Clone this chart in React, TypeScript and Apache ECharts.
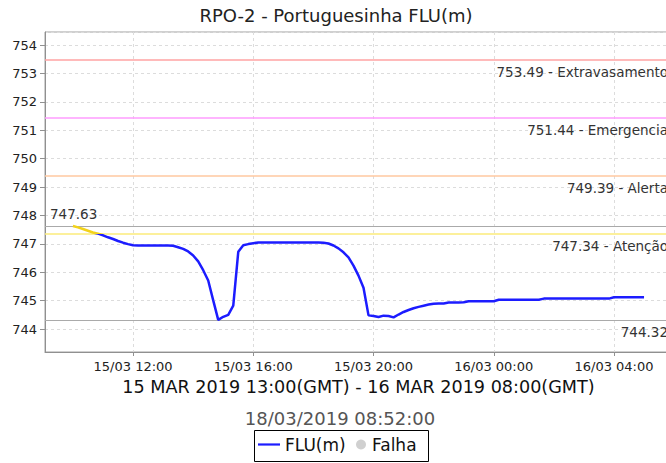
import React, { useEffect, useRef } from "react";
import * as echarts from "echarts";

const TITLE = "RPO-2 - Portuguesinha FLU(m)";
const X_AXIS_NAME = "15 MAR 2019 13:00(GMT) - 16 MAR 2019 08:00(GMT)";
const SUBTITLE = "18/03/2019 08:52:00";
const SERIES_NAME = "FLU(m)";
const FAIL_NAME = "Falha";

// first reading: 15/03 10:00 (local), one reading every 10 minutes
const START_HOUR = 10;
const STEP_MINUTES = 10;
const VALUES = [
  747.63, 747.58, 747.52, 747.46, 747.4, 747.36, 747.3, 747.23, 747.17, 747.1,
  747.04, 746.99, 746.95, 746.94, 746.94, 746.94, 746.94, 746.94, 746.94, 746.94,
  746.93, 746.88, 746.82, 746.73, 746.59, 746.38, 746.07, 745.71, 745.01, 744.32,
  744.43, 744.5, 744.82, 746.72, 746.95, 746.99, 747.02, 747.05, 747.05, 747.05,
  747.05, 747.05, 747.05, 747.05, 747.05, 747.05, 747.05, 747.05, 747.05, 747.05,
  747.04, 747.01, 746.94, 746.84, 746.7, 746.52, 746.23, 745.88, 745.45, 744.48,
  744.46, 744.42, 744.47, 744.46, 744.41, 744.51, 744.6, 744.67, 744.73, 744.78,
  744.82, 744.86, 744.89, 744.9, 744.9, 744.93, 744.93, 744.93, 744.94, 744.98,
  744.98, 744.98, 744.98, 744.98, 744.98, 745.03, 745.03, 745.03, 745.03, 745.03,
  745.03, 745.03, 745.03, 745.03, 745.07, 745.07, 745.07, 745.07, 745.07, 745.07,
  745.07, 745.07, 745.07, 745.07, 745.07, 745.07, 745.07, 745.07, 745.12, 745.12,
  745.12, 745.12, 745.12, 745.12, 745.12,
];

const THRESHOLD_VALUES = [753.49, 751.44, 749.39, 747.34];
const THRESHOLD_NAMES = ["Extravasamento", "Emergencia", "Alerta", "Atenção"];
const THRESHOLD_COLORS = ["#ffa3a3", "#ff9cff", "#ffc8a0", "#fbeb7a"];

const X_MIN_HOUR = 9.07;
const X_MAX_HOUR = 29.93;
const Y_MIN = 743.19;
const Y_MAX = 754.46;

const BLUE = "#1c1cff";
const YELLOW = "#f2d21a";
const GRAY_DOT = "#c4c4c4";
const FONT = "DejaVu Sans";

const pad = (n: number) => (n < 10 ? "0" + n : String(n));
const formatHour = (v: number) => {
  const total = Math.round(v * 60);
  const day = 15 + Math.floor(total / 1440);
  const minutesOfDay = total % 1440;
  return `${pad(day)}/03 ${pad(Math.floor(minutesOfDay / 60))}:${pad(minutesOfDay % 60)}`;
};

export default function App() {
  const ref = useRef<HTMLDivElement>(null);

  useEffect(() => {
    if (!ref.current) return;
    const chart = echarts.init(ref.current, undefined, { renderer: "svg" });
    const data = VALUES.map((v, i) => [START_HOUR + (i * STEP_MINUTES) / 60, v]);

    const legendBase = {
      orient: "horizontal",
      top: 436,
      padding: 0,
      itemHeight: 10,
      symbolKeepAspect: true,
      textStyle: { fontSize: 17, color: "#111", fontFamily: FONT },
      z: 5,
    };

    chart.setOption({
      animation: false,
      backgroundColor: "#ffffff",
      textStyle: { fontFamily: FONT },
      grid: {
        left: 45,
        right: 18,
        top: 32,
        bottom: 111,
        show: true,
        borderColor: "#a0a0a0",
        borderWidth: 1,
      },
      graphic: [
        {
          type: "text",
          x: 336,
          y: 15,
          style: {
            text: TITLE,
            fill: "#222",
            font: `18px '${FONT}'`,
            textAlign: "center",
            textVerticalAlign: "middle",
          },
        },
        {
          type: "text",
          x: 340,
          y: 418,
          style: {
            text: SUBTITLE,
            fill: "#555",
            font: `18px '${FONT}'`,
            textAlign: "center",
            textVerticalAlign: "middle",
          },
        },
        {
          type: "rect",
          shape: { x: 254.5, y: 430.5, width: 174, height: 31 },
          style: { fill: "none", stroke: "#000", lineWidth: 1 },
          z: 1,
        },
      ],
      xAxis: {
        type: "value",
        min: X_MIN_HOUR,
        max: X_MAX_HOUR,
        splitNumber: 5,
        minInterval: 4,
        maxInterval: 4,
        name: X_AXIS_NAME,
        nameLocation: "middle",
        nameGap: 26,
        nameTextStyle: { fontSize: 17.6, color: "#111", fontFamily: FONT },
        axisLine: { show: true, lineStyle: { color: "#909090", width: 1 } },
        axisTick: { show: true, length: 4, lineStyle: { color: "#909090" } },
        axisLabel: {
          formatter: formatHour,
          fontSize: 13,
          color: "#222",
          margin: 8,
          fontFamily: FONT,
          showMinLabel: false,
          showMaxLabel: false,
        },
        splitLine: { show: true, lineStyle: { color: "#dcdcdc", type: [3, 3], width: 1 } },
      },
      yAxis: {
        type: "value",
        min: Y_MIN,
        max: Y_MAX,
        splitNumber: 11,
        minInterval: 1,
        maxInterval: 1,
        axisLine: { show: true, lineStyle: { color: "#909090", width: 1 } },
        axisTick: { show: true, length: 5, lineStyle: { color: "#909090" } },
        axisLabel: {
          fontSize: 13,
          color: "#222",
          margin: 8,
          fontFamily: FONT,
          showMinLabel: false,
          showMaxLabel: false,
        },
        splitLine: { show: true, lineStyle: { color: "#dcdcdc", type: [3, 3], width: 1 } },
      },
      visualMap: {
        show: false,
        type: "piecewise",
        seriesIndex: 0,
        dimension: 1,
        pieces: [
          { gt: THRESHOLD_VALUES[3], lte: 800, color: YELLOW },
          { gt: 700, lte: THRESHOLD_VALUES[3], color: BLUE },
        ],
      },
      legend: [
        {
          ...legendBase,
          left: 258,
          itemWidth: 22,
          data: [
            {
              name: SERIES_NAME,
              icon: "path://M0 0H30V3H0Z",
              itemStyle: { color: BLUE },
            },
          ],
        },
        {
          ...legendBase,
          left: 356,
          itemWidth: 12,
          data: [{ name: FAIL_NAME, icon: "circle", itemStyle: { color: GRAY_DOT } }],
        },
      ],
      series: [
        {
          type: "line",
          name: SERIES_NAME,
          data,
          symbol: "none",
          lineStyle: { width: 2.5 },
          z: 3,
          markLine: {
            symbol: "none",
            silent: true,
            z: 2,
            label: {
              fontFamily: FONT,
              fontSize: 13.5,
              color: "#333",
              position: "insideEndBottom",
              distance: [4, 5],
            },
            data: [
              ...THRESHOLD_VALUES.map((v, i) => ({
                yAxis: v,
                lineStyle: { color: THRESHOLD_COLORS[i], width: 1.5, type: "solid" },
                label: { formatter: `${v.toFixed(2)} - ${THRESHOLD_NAMES[i]}` },
              })),
              {
                type: "max",
                lineStyle: { color: "#aaaaaa", width: 1.2, type: "solid" },
                label: {
                  position: "insideStartTop",
                  distance: [5, 5],
                  formatter: (p: any) => Number(p.value).toFixed(2),
                },
              },
              {
                type: "min",
                lineStyle: { color: "#aaaaaa", width: 1.2, type: "solid" },
                label: {
                  position: "insideEndBottom",
                  formatter: (p: any) => Number(p.value).toFixed(2),
                },
              },
            ],
          },
        },
        {
          type: "scatter",
          name: FAIL_NAME,
          data: [],
          itemStyle: { color: GRAY_DOT },
        },
      ],
    });

    return () => chart.dispose();
  }, []);

  return (
    <div
      style={{
        position: "absolute",
        left: 0,
        top: 0,
        width: 666,
        height: 463,
        overflow: "hidden",
        background: "#fff",
      }}
    >
      <div ref={ref} style={{ width: 690, height: 463 }} />
    </div>
  );
}
